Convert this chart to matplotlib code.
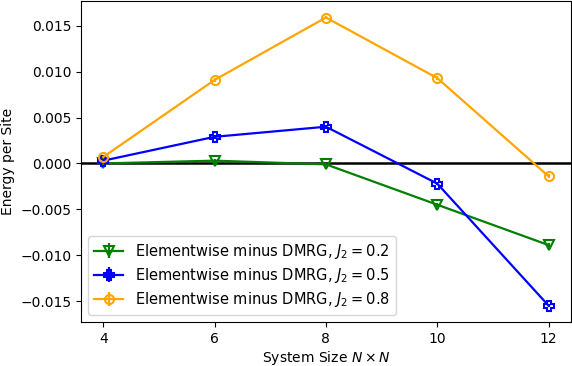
import matplotlib
matplotlib.use("Agg")
from matplotlib import pyplot as plt

sizes = [4, 6, 8, 10, 12]
diff_02 = [0.0000, 0.0003, -0.0001, -0.0045, -0.0089]
diff_05 = [0.0003, 0.0029, 0.0040, -0.0022, -0.0155]
diff_08 = [0.0007, 0.0091, 0.0159, 0.0093, -0.0014]
err_02 = [0.0002, 0.0002, 0.0002, 0.0002, 0.0002]
err_05 = [0.0002, 0.0002, 0.0002, 0.0002, 0.0002]
err_08 = [0.0002, 0.0002, 0.0002, 0.0002, 0.0002]

fig, ax = plt.subplots(figsize=(5.72, 3.66), dpi=100)

ax.errorbar(sizes, diff_02, yerr=err_02, color="green", marker="v", mfc="none",
            ms=6.5, mew=1.5, lw=1.6, label=r"Elementwise minus DMRG, $J_2 = 0.2$")
ax.errorbar(sizes, diff_05, yerr=err_05, color="blue", marker="P", mfc="none",
            ms=6.5, mew=1.5, lw=1.6, label=r"Elementwise minus DMRG, $J_2 = 0.5$")
ax.errorbar(sizes, diff_08, yerr=err_08, color="orange", marker="o", mfc="none",
            ms=6.5, mew=1.5, lw=1.6, label=r"Elementwise minus DMRG, $J_2 = 0.8$")
ax.axhline(0, color="black", lw=1.8, zorder=0)

ax.set_xticks(sizes)
ax.set_xlabel(r"System Size $N \times N$", labelpad=2)
ax.set_ylabel("Energy per Site")
ax.legend(loc="lower left", fontsize=10.5, labelspacing=0.35)

fig.subplots_adjust(left=0.1416, right=0.998, top=0.997, bottom=0.12)
fig.savefig("out.png")
